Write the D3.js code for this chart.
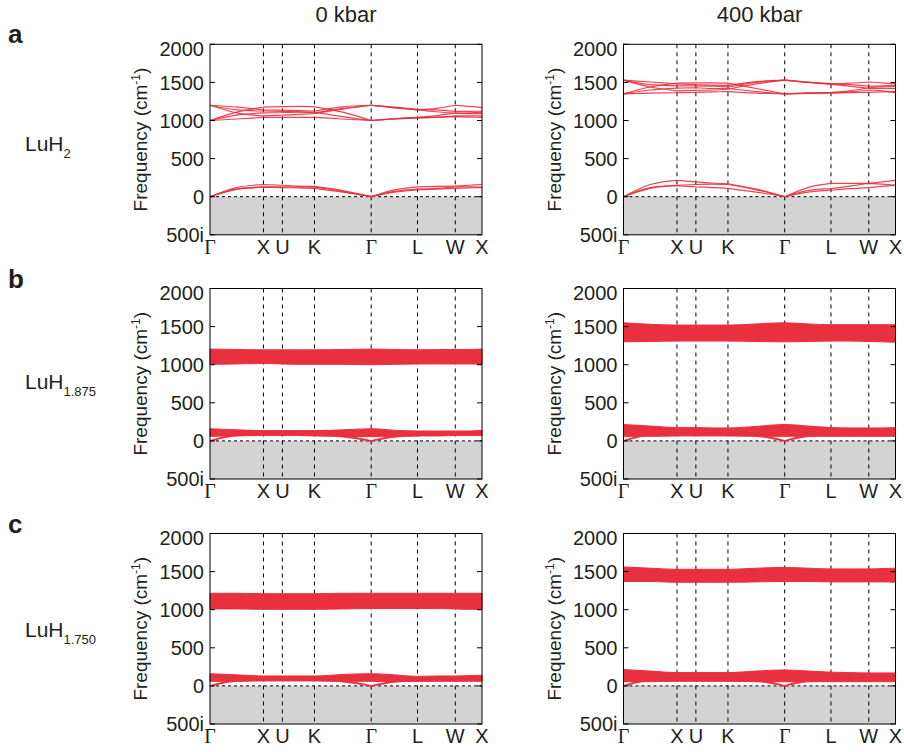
<!DOCTYPE html>
<html>
<head>
<meta charset="utf-8">
<script src="https://cdn.jsdelivr.net/npm/d3@7"></script>
<style>
  body { margin: 0; background: #fff; }
  text { font-family: "Liberation Sans", Arial, sans-serif; fill: #231f20; }
</style>
</head>
<body>
<script>
var w = 904;
var h = 752;

// column titles and row labels
var pressures = ["0 kbar", "400 kbar"];
var panelLetters = ["a", "b", "c"];
var compoundSub = ["2", "1.875", "1.750"];

// high-symmetry path
var pathLabels = ["Γ", "X", "U", "K", "Γ", "L", "W", "X"];
var pathTicks = [0, 1, 1.354, 1.954, 3.015, 3.881, 4.588, 5.088];
// sample points along the path (symmetry points + segment midpoints)
var kSamples = [0, 0.5, 1, 1.354, 1.654, 1.954, 2.485, 3.015, 3.448, 3.881, 4.235, 4.588, 4.838, 5.088];
var symIdx = [0, 2, 3, 5, 7, 9, 11, 13];

var yTicks = [2000, 1500, 1000, 500, 0, -500];
var yTickLabels = ["2000", "1500", "1000", "500", "0", "500i"];

// LuH2, 0 kbar
var luh2_0_optical = [
  [1000, 1110, 1175, 1182, 1185, 1180, 1110, 1000, 1025, 1040, 1065, 1100, 1090, 1090],
  [1000, 1070, 1100, 1105, 1110, 1110, 1050, 1000, 1020, 1035, 1040, 1050, 1045, 1040],
  [1000, 1020, 1040, 1040, 1040, 1040, 1020, 1000, 1020, 1035, 1045, 1060, 1060, 1060],
  [1200, 1140, 1125, 1120, 1115, 1100, 1160, 1200, 1170, 1140, 1160, 1200, 1185, 1170],
  [1200, 1100, 1060, 1070, 1080, 1090, 1150, 1200, 1175, 1145, 1140, 1120, 1120, 1125],
  [1200, 1175, 1140, 1135, 1130, 1125, 1180, 1200, 1165, 1140, 1115, 1095, 1100, 1110]
];
var luh2_0_acoustic = [
  [0, 120, 160, 150, 140, 135, 80, 0, 90, 130, 135, 140, 150, 160],
  [0, 100, 130, 130, 130, 125, 70, 0, 70, 100, 110, 130, 130, 125],
  [0, 95, 125, 120, 115, 110, 60, 0, 60, 90, 100, 110, 115, 120]
];
// LuH2, 400 kbar
var luh2_400_optical = [
  [1350, 1440, 1490, 1495, 1495, 1490, 1420, 1350, 1360, 1370, 1390, 1430, 1440, 1445],
  [1350, 1400, 1425, 1430, 1420, 1420, 1380, 1350, 1355, 1360, 1365, 1370, 1375, 1380],
  [1350, 1360, 1365, 1370, 1375, 1380, 1360, 1350, 1360, 1365, 1375, 1400, 1390, 1365],
  [1530, 1470, 1455, 1455, 1450, 1440, 1500, 1530, 1500, 1480, 1490, 1505, 1495, 1480],
  [1530, 1440, 1390, 1395, 1400, 1410, 1480, 1530, 1505, 1480, 1470, 1450, 1455, 1460],
  [1530, 1505, 1480, 1470, 1465, 1460, 1510, 1530, 1500, 1475, 1450, 1420, 1420, 1420]
];
var luh2_400_acoustic = [
  [0, 160, 215, 195, 180, 170, 100, 0, 120, 175, 175, 175, 195, 215],
  [0, 120, 150, 160, 165, 160, 90, 0, 80, 105, 140, 175, 165, 150],
  [0, 110, 145, 130, 120, 110, 60, 0, 60, 85, 105, 120, 135, 150]
];

// LuH1.875 and LuH1.750: dense branch bundles, given by lower / upper edge
var luh1875_0_optLow = [1005, 1010, 1015, 1010, 1005, 1005, 1005, 1000, 1005, 1010, 1010, 1010, 1010, 1005];
var luh1875_0_optHigh = [1205, 1200, 1195, 1195, 1195, 1195, 1200, 1205, 1200, 1195, 1198, 1200, 1200, 1205];
var luh1875_0_acLow = [60, 65, 70, 70, 70, 65, 60, 55, 60, 65, 65, 70, 70, 70];
var luh1875_0_acHigh = [160, 145, 135, 135, 135, 135, 145, 160, 140, 130, 130, 130, 130, 140];
var luh1875_0_acoustic = [
  [0, 80, 100, 100, 95, 95, 70, 0, 65, 85, 90, 95, 95, 100],
  [0, 70, 85, 85, 85, 80, 55, 0, 50, 70, 80, 85, 85, 85]
];

var luh1875_400_optLow = [1300, 1305, 1310, 1310, 1310, 1310, 1305, 1300, 1305, 1310, 1310, 1305, 1300, 1295];
var luh1875_400_optHigh = [1550, 1530, 1520, 1520, 1520, 1520, 1535, 1550, 1535, 1525, 1525, 1525, 1525, 1525];
var luh1875_400_acLow = [60, 60, 65, 65, 65, 65, 60, 60, 60, 60, 60, 60, 60, 60];
var luh1875_400_acHigh = [215, 195, 175, 175, 170, 170, 190, 215, 195, 175, 170, 170, 170, 175];
var luh1875_400_acoustic = [
  [0, 95, 120, 115, 110, 110, 85, 0, 80, 105, 110, 115, 115, 120],
  [0, 80, 95, 95, 90, 90, 65, 0, 60, 80, 85, 90, 95, 95]
];

var luh1750_0_optLow = [1010, 1010, 1005, 1005, 1005, 1005, 1010, 1015, 1015, 1015, 1015, 1010, 1005, 1005];
var luh1750_0_optHigh = [1215, 1215, 1210, 1210, 1210, 1210, 1215, 1215, 1215, 1215, 1215, 1215, 1215, 1215];
var luh1750_0_acLow = [60, 60, 65, 65, 65, 65, 60, 60, 55, 60, 60, 60, 60, 60];
var luh1750_0_acHigh = [160, 145, 130, 130, 130, 130, 150, 160, 145, 125, 130, 130, 135, 140];
var luh1750_0_acoustic = [
  [0, 80, 95, 95, 95, 90, 70, 0, 60, 85, 90, 90, 95, 95],
  [0, 65, 80, 80, 80, 80, 55, 0, 50, 70, 75, 80, 80, 85]
];

var luh1750_400_optLow = [1370, 1370, 1360, 1360, 1360, 1360, 1365, 1370, 1370, 1365, 1365, 1365, 1365, 1360];
var luh1750_400_optHigh = [1560, 1545, 1530, 1530, 1530, 1530, 1545, 1555, 1545, 1535, 1535, 1535, 1540, 1545];
var luh1750_400_acLow = [55, 55, 60, 60, 60, 60, 55, 55, 55, 55, 55, 55, 55, 55];
var luh1750_400_acHigh = [215, 195, 175, 175, 175, 175, 195, 210, 195, 180, 175, 170, 170, 170];
var luh1750_400_acoustic = [
  [0, 95, 115, 115, 110, 110, 85, 0, 80, 100, 110, 110, 115, 115],
  [0, 75, 90, 90, 90, 85, 65, 0, 60, 80, 85, 85, 90, 90]
];

var panels = [
  { row: 0, col: 0, lines: luh2_0_optical.concat(luh2_0_acoustic), strips: [] },
  { row: 0, col: 1, lines: luh2_400_optical.concat(luh2_400_acoustic), strips: [] },
  { row: 1, col: 0, lines: luh1875_0_acoustic, strips: [[luh1875_0_optLow, luh1875_0_optHigh], [luh1875_0_acLow, luh1875_0_acHigh]] },
  { row: 1, col: 1, lines: luh1875_400_acoustic, strips: [[luh1875_400_optLow, luh1875_400_optHigh], [luh1875_400_acLow, luh1875_400_acHigh]] },
  { row: 2, col: 0, lines: luh1750_0_acoustic, strips: [[luh1750_0_optLow, luh1750_0_optHigh], [luh1750_0_acLow, luh1750_0_acHigh]] },
  { row: 2, col: 1, lines: luh1750_400_acoustic, strips: [[luh1750_400_optLow, luh1750_400_optHigh], [luh1750_400_acLow, luh1750_400_acHigh]] }
];

var colLeft = [210, 623.5];
var rowTop = [44.3, 288.5, 533.5];
var plotW = 272;
var plotH = 190.5;
var red = "#e8303e";

var svg = d3.select("body").append("svg").attr("width", w).attr("height", h);

var x = d3.scaleLinear().domain([0, pathTicks[pathTicks.length - 1]]).range([0, plotW]);
var y = d3.scaleLinear().domain([-500, 2000]).range([plotH, 0]);

var line = d3.line()
  .x(function (d) { return x(d[0]); })
  .y(function (d) { return y(d[1]); })
  .curve(d3.curveMonotoneX);

var area = d3.area()
  .x(function (d, i) { return x(kSamples[i]); })
  .y0(function (d) { return y(d[0]); })
  .y1(function (d) { return y(d[1]); })
  .curve(d3.curveMonotoneX);

// branch path: each segment between symmetry points drawn on its own (keeps cusps)
function branchPath(vals) {
  var d = "";
  for (var s = 0; s < symIdx.length - 1; s++) {
    var seg = [];
    for (var i = symIdx[s]; i <= symIdx[s + 1]; i++) seg.push([kSamples[i], vals[i]]);
    d += line(seg);
  }
  return d;
}

// column titles
pressures.forEach(function (p, c) {
  svg.append("text")
    .attr("x", colLeft[c] + plotW / 2)
    .attr("y", 22)
    .attr("text-anchor", "middle")
    .style("font-size", "22px")
    .text(p);
});

// row letters and compound names
var letterBase = [43, 288, 533];
var nameBase = [151, 389, 637];
panelLetters.forEach(function (l, r) {
  svg.append("text")
    .attr("x", 8).attr("y", letterBase[r])
    .style("font-size", "26px").style("font-weight", "bold")
    .text(l);
  var t = svg.append("text")
    .attr("x", 25).attr("y", nameBase[r])
    .style("font-size", "21px");
  t.append("tspan").text("LuH");
  t.append("tspan").attr("dy", 7).style("font-size", "13px").text(compoundSub[r]);
});

panels.forEach(function (p) {
  var g = svg.append("g")
    .attr("transform", "translate(" + colLeft[p.col] + "," + rowTop[p.row] + ")");

  // imaginary region
  g.append("rect")
    .attr("x", 0).attr("y", y(0))
    .attr("width", plotW).attr("height", y(-500) - y(0))
    .style("fill", "#d3d3d3");

  // dashed high-symmetry lines
  g.selectAll("line.sym")
    .data(pathTicks.slice(1, -1))
    .enter().append("line")
    .attr("x1", function (d) { return x(d); })
    .attr("x2", function (d) { return x(d); })
    .attr("y1", 0).attr("y2", plotH)
    .style("stroke", "#000").style("stroke-width", 1)
    .style("stroke-dasharray", "4,4");

  g.append("line")
    .attr("x1", 0).attr("x2", plotW)
    .attr("y1", y(0)).attr("y2", y(0))
    .style("stroke", "#000").style("stroke-width", 1)
    .style("stroke-dasharray", "3,3");

  // dense bundles
  p.strips.forEach(function (s) {
    var pairs = s[0].map(function (v, i) { return [v, s[1][i]]; });
    g.append("path")
      .attr("d", area(pairs))
      .style("fill", red).style("stroke", red).style("stroke-width", 1);
  });

  // branches
  g.selectAll("path.branch")
    .data(p.lines)
    .enter().append("path")
    .attr("d", branchPath)
    .style("fill", "none")
    .style("stroke", red)
    .style("stroke-width", p.strips.length ? 1.5 : 1.2)
    .style("opacity", 0.9);

  // y ticks inside frame, both sides
  yTicks.forEach(function (t, i) {
    g.append("line").attr("x1", 0).attr("x2", 5).attr("y1", y(t)).attr("y2", y(t))
      .style("stroke", "#000");
    g.append("line").attr("x1", plotW - 5).attr("x2", plotW).attr("y1", y(t)).attr("y2", y(t))
      .style("stroke", "#000");
    g.append("text")
      .attr("x", -6).attr("y", y(t) + (i === 0 ? 4 : 0))
      .attr("dy", "0.36em")
      .attr("text-anchor", "end")
      .style("font-size", "20px")
      .text(yTickLabels[i]);
  });

  // x labels
  g.selectAll("text.k")
    .data(pathLabels)
    .enter().append("text")
    .attr("x", function (d, i) { return x(pathTicks[i]); })
    .attr("y", plotH + 19)
    .attr("text-anchor", "middle")
    .style("font-size", "20px")
    .style("font-family", function (d) { return d === "Γ" ? "'Liberation Serif', serif" : null; })
    .text(function (d) { return d; });

  // frame
  g.append("rect")
    .attr("width", plotW).attr("height", plotH)
    .style("fill", "none").style("stroke", "#000").style("stroke-width", 1);

  // axis title
  var yt = g.append("text")
    .attr("transform", "translate(-63," + (plotH / 2) + ") rotate(-90)")
    .attr("text-anchor", "middle")
    .style("font-size", "19px");
  yt.append("tspan").text("Frequency (cm");
  yt.append("tspan").attr("dy", -7).style("font-size", "12px").text("-1");
  yt.append("tspan").attr("dy", 7).text(")");
});
</script>
</body>
</html>
